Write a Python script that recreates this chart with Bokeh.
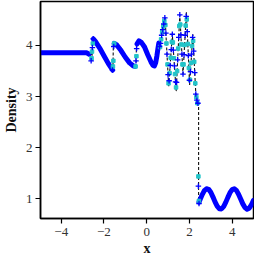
from bokeh.plotting import figure
from bokeh.models import FixedTicker, Range1d
from bokeh.embed import file_html
from bokeh.resources import INLINE

# ---- reference solution (black dashed) ----
ref_x = [-5.0, -2.62, -2.56, -2.54, -2.4, -2.2, -2.0, -1.8, -1.65, -1.58, -1.56, -1.4, -1.2, -1.0, -0.8,
         -0.6, -0.5, -0.48, -0.36, -0.25, -0.1, 0.05, 0.2, 0.33, 0.45, 0.55, 0.62, 0.70, 0.86, 1.03,
         1.20, 1.38, 1.55, 1.70, 1.86, 2.01, 2.16, 2.30, 2.38, 2.43, 2.43]
ref_y = [3.857, 3.857, 3.69, 4.13, 4.08, 3.95, 3.80, 3.65, 3.54, 3.51, 4.04, 4.01, 3.90, 3.77, 3.66,
         3.60, 3.58, 4.00, 4.09, 4.06, 3.97, 3.82, 3.68, 3.60, 3.80, 4.07, 3.95, 4.20, 4.56, 3.19,
         4.22, 3.10, 4.60, 3.44, 4.65, 3.23, 4.22, 3.05, 2.86, 2.85, 0.92]

# ---- numerical solution, smooth pieces (dense points forming a thick curve) ----
seg1_x = [-5.0, -3.5, -2.80, -2.70]
seg1_y = [3.857, 3.857, 3.857, 3.83]
seg2_x = [-2.50, -2.40, -2.2, -2.0, -1.8, -1.66, -1.60]
seg2_y = [4.13, 4.08, 3.95, 3.80, 3.65, 3.56, 3.52]
seg3_x = [-1.52, -1.40, -1.2, -1.0, -0.8, -0.62, -0.55]
seg3_y = [4.04, 4.01, 3.90, 3.77, 3.66, 3.60, 3.59]
seg4_x = [-0.45, -0.36, -0.25, -0.1, 0.05, 0.2, 0.3, 0.36, 0.42, 0.48, 0.53, 0.57]
seg4_y = [4.03, 4.09, 4.06, 3.97, 3.82, 3.68, 3.61, 3.60, 3.66, 3.80, 3.95, 4.05]
pre_x = [2.45, 2.5, 2.6, 2.7, 2.8, 2.9, 3.0, 3.1, 3.2, 3.3, 3.4, 3.5, 3.6, 3.7, 3.8, 3.9,
         4.0, 4.1, 4.2, 4.3, 4.4, 4.5, 4.6, 4.7, 4.8, 4.9, 5.0]
pre_y = [0.938, 0.987, 1.084, 1.161, 1.198, 1.187, 1.130, 1.041, 0.942, 0.858, 0.808, 0.805,
         0.850, 0.932, 1.030, 1.121, 1.183, 1.199, 1.167, 1.093, 0.998, 0.903, 0.831, 0.800,
         0.819, 0.882, 0.974]

# ---- numerical solution, separated points (blue crosses) ----
plus_x = [-2.60, -2.54, -2.50, -1.60, -1.54, -0.50, -0.47,
          0.60, 0.65, 0.70, 0.75, 0.80, 0.85, 0.90, 0.95, 1.00, 1.05, 1.10, 1.15, 1.20, 1.25,
          1.30, 1.35, 1.40, 1.45, 1.50, 1.55, 1.60, 1.65, 1.70, 1.75, 1.80, 1.85, 1.90, 1.95,
          2.00, 2.05, 2.10, 2.15, 2.20, 2.25, 2.30, 2.35, 2.40, 2.42, 2.45]
plus_y = [3.70, 3.96, 4.13, 3.52, 3.98, 3.70, 3.94,
          3.98, 4.04, 4.20, 4.31, 4.42, 4.54, 4.24, 3.83, 3.43, 3.31, 3.61, 3.92, 4.22, 3.91,
          3.60, 3.29, 3.28, 3.72, 4.16, 4.60, 4.21, 3.83, 3.44, 3.82, 4.20, 4.57, 4.27, 3.80,
          3.32, 3.49, 3.83, 4.16, 3.89, 3.47, 3.05, 2.93, 2.87, 1.25, 0.91]

# ---- second numerical solution (cyan squares) ----
sq_x = [-2.58, -2.56, -2.52, -1.58, -1.56, -1.52, -0.52, -0.48,
        0.625, 0.675, 0.725, 0.775, 0.825, 0.875, 0.925, 0.975, 1.025, 1.075, 1.125, 1.175,
        1.225, 1.275, 1.325, 1.375, 1.425, 1.475, 1.525, 1.575, 1.625, 1.675, 1.725, 1.775,
        1.825, 1.875, 1.925, 1.975, 2.025, 2.075, 2.125, 2.175, 2.225, 2.275, 2.325, 2.375,
        2.42, 2.445]
sq_y = [3.75, 3.88, 4.04, 3.59, 3.70, 4.04, 3.59, 3.79,
        3.97, 4.12, 4.26, 4.37, 4.48, 4.40, 4.04, 3.63, 3.26, 3.46, 3.76, 4.07,
        4.06, 3.75, 3.44, 3.18, 3.50, 3.94, 4.38, 4.41, 4.02, 3.63, 3.63, 4.01,
        4.39, 4.51, 4.03, 3.56, 3.33, 3.66, 3.99, 4.09, 3.68, 3.26, 2.99, 2.87,
        1.44, 0.96]

x_ticks = [-4, -2, 0, 2, 4]
y_ticks = [1, 2, 3, 4]

FONT = "Liberation Serif"
BLUE = "#0000ff"
CYAN = "#22c4c8"

p = figure(width=254, height=258, x_range=Range1d(-4.97, 5.0), y_range=Range1d(0.617, 4.86),
           output_backend="svg", toolbar_location=None,
           min_border_left=33, min_border_right=1, min_border_top=1, min_border_bottom=40)

p.line(ref_x + pre_x, ref_y + pre_y, line_color="#111111", line_width=1.1, line_dash="3 2")
p.multi_line([seg1_x, seg2_x, seg3_x, seg4_x, pre_x], [seg1_y, seg2_y, seg3_y, seg4_y, pre_y],
             line_color=BLUE, line_width=5, line_cap="round", line_join="round")
p.scatter(sq_x, sq_y, marker="square", size=3.5, fill_color=CYAN, line_color=CYAN)
p.scatter(plus_x, plus_y, marker="cross", size=5.5, line_color=BLUE, line_width=1.3)

p.xgrid.grid_line_color = None
p.ygrid.grid_line_color = None
p.outline_line_color = "black"
p.outline_line_width = 1.5
p.outline_line_alpha = 1.0

p.xaxis.ticker = FixedTicker(ticks=x_ticks)
p.yaxis.ticker = FixedTicker(ticks=y_ticks)
p.xaxis.major_label_overrides = {-4: "\u22124", -2: "\u22122"}
p.xaxis.axis_label = "x"
p.yaxis.axis_label = "Density"
for ax in (p.xaxis, p.yaxis):
    ax.axis_line_width = 1.5
    ax.axis_line_color = "black"
    ax.major_tick_line_width = 1.2
    ax.major_tick_line_color = "black"
    ax.major_tick_out = 5
    ax.major_tick_in = 0
    ax.minor_tick_line_color = None
    ax.major_label_text_font = FONT
    ax.major_label_text_font_size = "13px"
    ax.major_label_text_color = "#333333"
    ax.axis_label_text_font = FONT
    ax.axis_label_text_font_size = "14px"
    ax.axis_label_text_font_style = "bold"
    ax.axis_label_text_color = "#111111"
p.xaxis.major_label_standoff = 4
p.yaxis.major_label_standoff = 3
p.xaxis.axis_label_standoff = 2
p.yaxis.axis_label_standoff = 4

open("out.html", "w").write(file_html(p, INLINE))
